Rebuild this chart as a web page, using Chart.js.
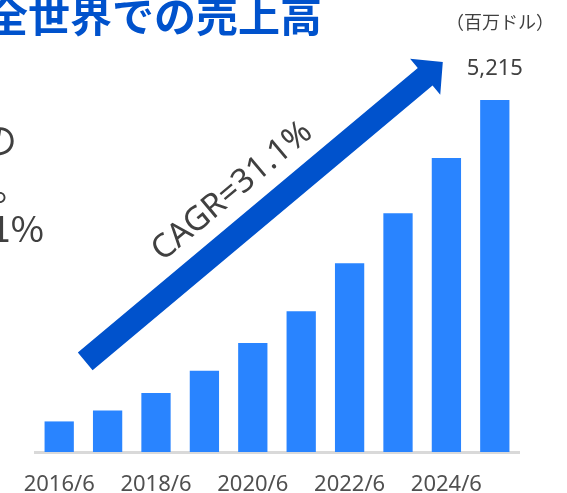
<!DOCTYPE html>
<html>
<head>
<meta charset="utf-8">
<title>全世界での売上高</title>
<script src="https://cdn.jsdelivr.net/npm/chart.js@4.4.1/dist/chart.umd.min.js"></script>
<style>
    html, body { margin: 0; padding: 0; background: #fff; overflow: hidden; }
    #wrap { position: relative; width: 567px; height: 493px; }
    #chart { position: absolute; left: 0; top: 0; }
    .txt { position: absolute; white-space: nowrap; color: #404040; line-height: 1; }
    #title { left: -14px; top: -17px; font: bold 42px "Noto Sans CJK JP", sans-serif; color: #0052CC; }
    #unit { left: 446px; top: 8px; font: 18px "Noto Sans CJK JP", sans-serif; }
    .side { font: 36px "Noto Sans CJK JP", sans-serif; text-align: right; }
</style>
</head>
<body>
<div id="wrap">
    <canvas id="chart" width="567" height="493"></canvas>
    <div class="txt" id="title">全世界での売上高</div>
    <div class="txt" id="unit">（百万ドル）</div>
    <div class="txt side" style="right:550px; top:112px;">成長の</div>
    <div class="txt side" style="right:538px; top:159px;">拡大。</div>
    <div class="txt side" style="right:523px; top:200px;">31.1%</div>
</div>

<script>
// --- data ---
const categories = ['2016/6', '2017/6', '2018/6', '2019/6', '2020/6',
                    '2021/6', '2022/6', '2023/6', '2024/6', '2025/6'];
const sales = [453, 616, 873, 1203, 1613, 2087, 2797, 3537, 4356, 5215];
const tickLabels = ['2016/6', '2018/6', '2020/6', '2022/6', '2024/6'];
const cagrText = 'CAGR=31.1%';

const BAR_BLUE = '#2984FF';
const ARROW_BLUE = '#0052CC';
const TEXT_GRAY = '#404040';

// arrow + CAGR label + last value label
const annotations = {
    id: 'annotations',
    afterDatasetsDraw(chart) {
        const ctx = chart.ctx;
        const bars = chart.getDatasetMeta(0).data;
        const first = bars[0];
        const last = bars[bars.length - 1];

        // arrow anchored to first and last bar
        const sx = first.x + 26, sy = first.y - 60;
        const tx = last.x - 52, ty = last.y - 38;
        const len = Math.hypot(tx - sx, ty - sy);
        const ux = (tx - sx) / len, uy = (ty - sy) / len;
        const nx = -uy, ny = ux;
        const shaft = 11.5, head = 23.5, headLen = 23;
        const bx = tx - ux * headLen, by = ty - uy * headLen;

        ctx.save();
        ctx.fillStyle = ARROW_BLUE;
        ctx.beginPath();
        ctx.moveTo(sx + nx * shaft, sy + ny * shaft);
        ctx.lineTo(bx + nx * shaft, by + ny * shaft);
        ctx.lineTo(bx + nx * head, by + ny * head);
        ctx.lineTo(tx, ty);
        ctx.lineTo(bx - nx * head, by - ny * head);
        ctx.lineTo(bx - nx * shaft, by - ny * shaft);
        ctx.lineTo(sx - nx * shaft, sy - ny * shaft);
        ctx.closePath();
        ctx.fill();

        // CAGR label along the arrow
        const t = 222;
        const cx = sx + ux * t - nx * 36;
        const cy = sy + uy * t - ny * 36;
        ctx.translate(cx, cy);
        ctx.rotate(Math.atan2(uy, ux));
        ctx.fillStyle = TEXT_GRAY;
        ctx.font = '33px "Noto Sans"';
        ctx.textAlign = 'center';
        ctx.textBaseline = 'middle';
        ctx.fillText(cagrText, 0, 0);
        ctx.restore();

        // value over the last bar
        ctx.save();
        ctx.fillStyle = TEXT_GRAY;
        ctx.font = '22px "Noto Sans"';
        ctx.textAlign = 'center';
        ctx.textBaseline = 'middle';
        ctx.fillText(sales[sales.length - 1].toLocaleString('en-US'), last.x, last.y - 31);
        ctx.restore();
    }
};

new Chart(document.getElementById('chart'), {
    type: 'bar',
    data: {
        labels: categories,
        datasets: [{
            data: sales,
            backgroundColor: BAR_BLUE,
            borderWidth: 0,
            categoryPercentage: 1,
            barPercentage: 0.605
        }]
    },
    options: {
        responsive: false,
        animation: false,
        layout: { padding: { left: 35, right: 48, top: 47, bottom: 0 } },
        plugins: { legend: { display: false }, tooltip: { enabled: false } },
        scales: {
            x: {
                grid: { display: false, drawTicks: false },
                border: { display: true, color: '#D9D9D9', width: 3 },
                ticks: {
                    autoSkip: false,
                    maxRotation: 0,
                    padding: 20,
                    color: '#505050',
                    font: { family: 'Noto Sans', size: 22 },
                    callback: function (value) {
                        const lbl = this.getLabelForValue(value);
                        return tickLabels.includes(lbl) ? lbl : '';
                    }
                },
                afterFit(scale) { scale.height = 41; }
            },
            y: { display: false, min: 0, max: 6000 }
        }
    },
    plugins: [annotations]
});
</script>
</body>
</html>
